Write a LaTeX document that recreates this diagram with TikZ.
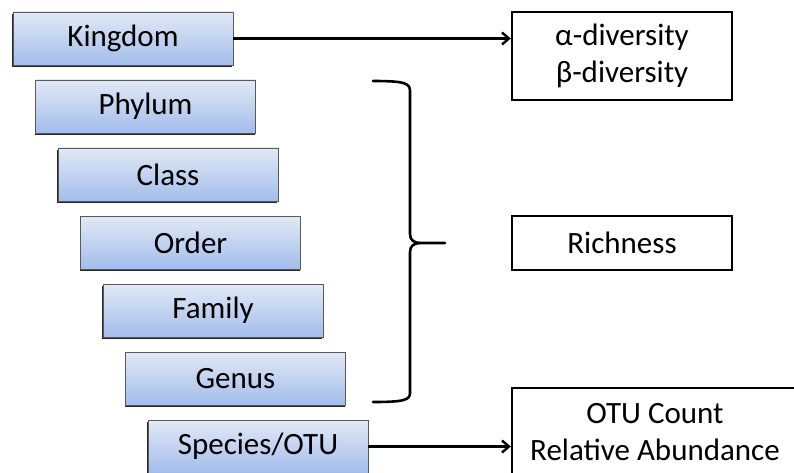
\documentclass[tikz,border=0pt]{standalone}
\usepackage{fontspec}
\setmainfont{Carlito}
\usepackage{tikz}
\usetikzlibrary{calc, arrows.meta, positioning, shadows}

\definecolor{rankTop}{HTML}{E2E9F6}
\definecolor{rankBottom}{HTML}{A2BDEA}

\begin{document}
\begin{tikzpicture}[x=1pt,y=1pt,node distance=68pt,>={Straight Barb[length=7pt,width=12pt]},
  font=\fontsize{31}{37}\selectfont,
  rank/.style={draw=black!65,line width=.8pt,top color=rankTop,bottom color=rankBottom,
    minimum width=220pt,minimum height=53pt,inner sep=0pt,
    drop shadow={shadow xshift=-1pt,shadow yshift=-1.6pt,fill=black!85,opacity=1}},
  result/.style={draw,line width=2.4pt,fill=white,minimum width=220pt,inner sep=0pt,align=center},
  link/.style={->,line width=2.4pt}]
\useasboundingbox (0,0) rectangle (794,472);
\draw node [rank] (kingdom) at (123,433.5)              {Kingdom};
\draw node [rank] [below of=kingdom,xshift=22.5] (phylum)  {Phylum};
\draw node [rank] [below of=phylum,xshift=22.5]  (class)   {Class};
\draw node [rank] [below of=class,xshift=22.5]   (order)   {Order};
\draw node [rank] [below of=order,xshift=22.5]   (family)  {Family};
\draw node [rank] [below of=family,xshift=22.5]  (genus)   {Genus};
\draw node [rank] [below of=genus,xshift=22.5]   (species) {Species/OTU};
% outcomes
\draw node [result,minimum height=88pt] (diversity) at (622,416) {α-diversity\\β-diversity};
\draw node [result,minimum height=54pt] (richness) at (622,229)  {Richness};
\draw node [result,minimum width=286pt,anchor=north,inner ysep=15pt] (abundance) at (655,85)
  {\fontsize{31}{36}\selectfont OTU Count\\Relative Abundance};
\draw [link] (kingdom.east) -- (kingdom.east -| diversity.west);
\draw [link] (species.east) -- (species.east -| abundance.west);
% brace over phylum..genus
\coordinate (tip) at (445,229);
\draw [line width=2.6pt,line cap=round] (373,391) .. controls (404,391) and (410,389) .. (410,381)
  -- (410,238) .. controls (410,232) and (414,229) .. (420,229) -- (tip);
\draw [line width=2.6pt,line cap=round] (420,229) .. controls (414,229) and (410,226) .. (410,220)
  -- (410,79) .. controls (410,72) and (404,70) .. (373,70);
\end{tikzpicture}
\end{document}
